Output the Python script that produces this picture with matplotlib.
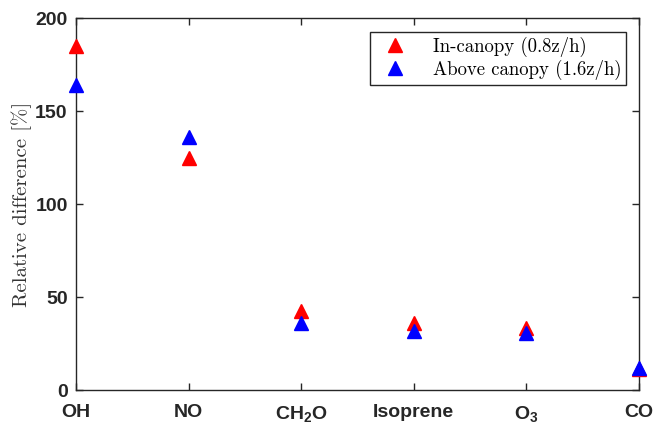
import matplotlib.pyplot as plt

# species and relative differences
species = ['OH', 'NO', r'$\mathbf{CH_2O}$', 'Isoprene', r'$\mathbf{O_3}$', 'CO']
in_canopy = [185.2, 124.5, 42.5, 36.0, 33.5, 11.5]
above_canopy = [164.2, 135.8, 36.0, 31.7, 30.6, 11.8]

plt.rcParams['mathtext.fontset'] = 'custom'
plt.rcParams['mathtext.bf'] = 'Liberation Sans:bold'
plt.rcParams['mathtext.rm'] = 'Liberation Sans:bold'
plt.rcParams['mathtext.sf'] = 'Liberation Sans:bold'

fig = plt.figure(figsize=(6.56, 4.24), dpi=100)
ax = fig.add_axes([0.1159, 0.080, 0.858, 0.8775])

x = list(range(1, len(species) + 1))
ax.plot(x, in_canopy, '^', color='red', ms=10.5, clip_on=False, zorder=3,
        label='In-canopy (0.8z/h)')
ax.plot(x, above_canopy, '^', color='blue', ms=10.5, clip_on=False, zorder=4,
        label='Above canopy (1.6z/h)')

ax.set_xlim(1, 6)
ax.set_ylim(0, 200)
ax.set_xticks(x)
ax.set_xticklabels(species)
ax.set_yticks([0, 50, 100, 150, 200])

axcol = '#262626'
for s in ax.spines.values():
    s.set_color(axcol)
    s.set_linewidth(1.0)
ax.tick_params(direction='in', top=True, right=True, length=5, width=1.0,
               color=axcol)
ax.tick_params(axis='x', pad=10)
ax.tick_params(axis='y', pad=6)
for lab in ax.get_xticklabels() + ax.get_yticklabels():
    lab.set_fontfamily('Liberation Sans')
    lab.set_fontweight('bold')
    lab.set_fontsize(14)
    lab.set_color(axcol)

ax.set_ylabel('Relative difference [%]', fontfamily='cmr10', fontsize=15,
              color='#333333', labelpad=2)

leg = ax.legend(loc='upper right', bbox_to_anchor=(0.977, 0.962),
                borderaxespad=0,
                prop={'family': 'cmr10', 'size': 13.5}, fancybox=False,
                edgecolor=axcol, framealpha=1, handletextpad=0.9,
                borderpad=0.25, labelspacing=0.15, handlelength=2.2)
leg.get_frame().set_linewidth(1.0)

fig.savefig('out.png', dpi=100)
